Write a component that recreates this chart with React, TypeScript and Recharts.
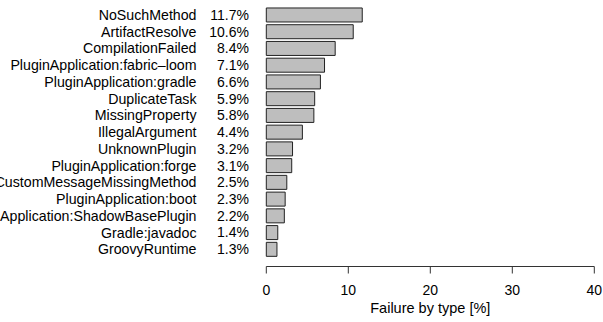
import React from 'react';
import { BarChart, Bar, XAxis, YAxis } from 'recharts';

// failure categories, top to bottom
const failureTypes = [
  'NoSuchMethod',
  'ArtifactResolve',
  'CompilationFailed',
  'PluginApplication:fabric–loom',
  'PluginApplication:gradle',
  'DuplicateTask',
  'MissingProperty',
  'IllegalArgument',
  'UnknownPlugin',
  'PluginApplication:forge',
  'CustomMessageMissingMethod',
  'PluginApplication:boot',
  'PluginApplication:ShadowBasePlugin',
  'Gradle:javadoc',
  'GroovyRuntime',
];

// share of failures in percent
const failureShare = [11.7, 10.6, 8.4, 7.1, 6.6, 5.9, 5.8, 4.4, 3.2, 3.1, 2.5, 2.3, 2.2, 1.4, 1.3];

const xTicks = [0, 10, 20, 30, 40];

const FONT = '"Liberation Sans", Arial, Helvetica, sans-serif';

const chartData = failureTypes.map((name, i) => ({ name, share: failureShare[i] }));

// two-column label: type name and its percentage
const TypeTick = ({ y, payload, index }: any) => {
  const pct = failureShare[index ?? payload.index];
  return (
    <g>
      <text x={196.5} y={y} dy="0.35em" textAnchor="end" fontSize={14.2} fill="#000" fontFamily={FONT}>
        {payload.value}
      </text>
      <text x={249} y={y} dy="0.35em" textAnchor="end" fontSize={14} fill="#000" fontFamily={FONT}>
        {pct.toFixed(1)}%
      </text>
    </g>
  );
};

export default function App() {
  return (
    <div style={{ width: 603, height: 322 }}>
      <style>{'body{margin:0}'}</style>
      <BarChart
        width={603}
        height={322}
        data={chartData}
        layout="vertical"
        margin={{ top: 6.6, right: 8.7, left: 0, bottom: 0 }}
        barCategoryGap="8.2%"
      >
        <XAxis
          type="number"
          domain={[0, 40]}
          ticks={xTicks}
          height={55.5}
          tickSize={7}
          tickMargin={12}
          stroke="#333"
          tick={{ fill: '#000', fontSize: 14, fontFamily: FONT }}
          label={{
            value: 'Failure by type [%]',
            position: 'insideBottom',
            offset: 9,
            fill: '#000',
            fontSize: 14.5,
            fontFamily: FONT,
          }}
        />
        <YAxis
          type="category"
          dataKey="name"
          width={266.3}
          axisLine={false}
          tickLine={false}
          interval={0}
          padding={{ top: 0, bottom: 8.8 }}
          tick={<TypeTick />}
        />
        <Bar dataKey="share" fill="#bebebe" stroke="#222" strokeWidth={1} isAnimationActive={false} />
      </BarChart>
    </div>
  );
}
